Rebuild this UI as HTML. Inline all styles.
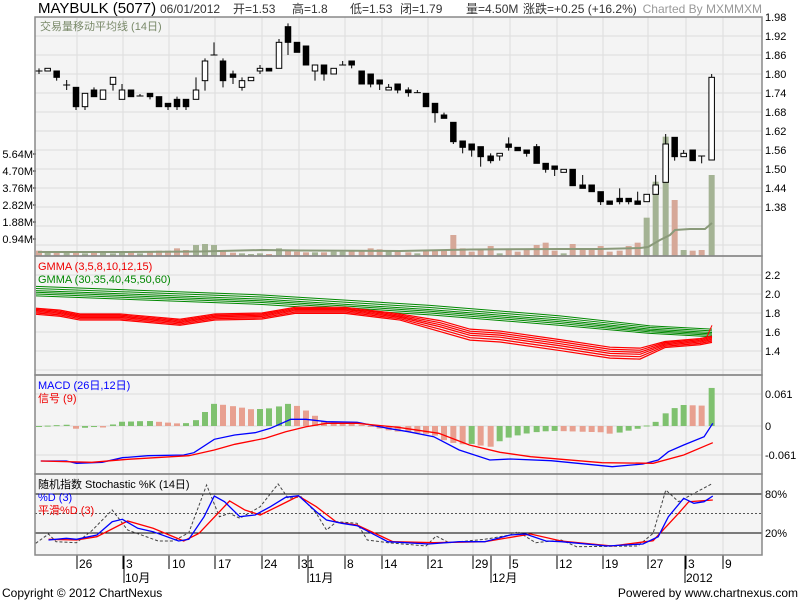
<!DOCTYPE html>
<html><head><meta charset="utf-8"><style>
body{margin:0;background:#fff;}
svg{display:block;font-family:"Liberation Sans","Noto Sans CJK SC",sans-serif;}
</style></head><body>
<svg id="s" width="800" height="600" xmlns="http://www.w3.org/2000/svg">
<rect width="800" height="600" fill="#fff"/>
<g id="bg"></g>
<g id="g"></g>
<g font-size="12" fill="#000">
<text x="38" y="13" font-size="15">MAYBULK (5077)</text>
<text x="160" y="13" fill="#333">06/01/2012</text>
<text x="233" y="13" fill="#333">开=1.53</text>
<text x="292" y="13" fill="#333">高=1.8</text>
<text x="350" y="13" fill="#333">低=1.53</text>
<text x="400" y="13" fill="#333">闭=1.79</text>
<text x="466" y="13" fill="#333">量=4.50M</text>
<text x="523" y="13" fill="#333">涨跌=+0.25 (+16.2%)</text>
<text x="762" y="13" fill="#999" text-anchor="end">Charted By MXMMXM</text>
<text x="40" y="30" font-size="11" fill="#7a8a6a">交易量移动平均线 (14日)</text>
<g font-size="11" text-anchor="end">
<text x="33" y="158">5.64M</text><text x="33" y="175">4.70M</text><text x="33" y="192">3.76M</text>
<text x="33" y="209">2.82M</text><text x="33" y="226">1.88M</text><text x="33" y="243">0.94M</text>
</g>
<g font-size="11">
<text x="765" y="21">1.98</text><text x="765" y="40">1.92</text><text x="765" y="59">1.86</text>
<text x="765" y="78">1.80</text><text x="765" y="97">1.74</text><text x="765" y="116">1.68</text>
<text x="765" y="135">1.62</text><text x="765" y="154">1.56</text><text x="765" y="173">1.50</text>
<text x="765" y="192">1.44</text><text x="765" y="211">1.38</text>
<text x="765" y="279">2.2</text><text x="765" y="298">2.0</text><text x="765" y="317">1.8</text>
<text x="765" y="336">1.6</text><text x="765" y="355">1.4</text>
<text x="765" y="398">0.061</text><text x="765" y="430">0</text><text x="765" y="459">-0.061</text>
<text x="765" y="498">80%</text><text x="765" y="537">20%</text>
</g>
<text x="38" y="270" font-size="11" fill="#e00">GMMA (3,5,8,10,12,15)</text>
<text x="38" y="283" font-size="11" fill="#080">GMMA (30,35,40,45,50,60)</text>
<text x="38" y="389" font-size="11" fill="#00f">MACD (26日,12日)</text>
<text x="38" y="402" font-size="11" fill="#e00">信号 (9)</text>
<text x="38" y="488" font-size="11">随机指数 Stochastic %K (14日)</text>
<text x="38" y="501" font-size="11" fill="#00f">%D (3)</text>
<text x="38" y="514" font-size="11" fill="#e00">平滑%D (3)</text>
<g font-size="12">
<text x="79" y="568">26</text><text x="126" y="568">3</text><text x="172" y="568">10</text>
<text x="218" y="568">17</text><text x="264" y="568">24</text><text x="301" y="568">31</text>
<text x="347" y="568">8</text><text x="384" y="568">14</text><text x="430" y="568">21</text>
<text x="475" y="568">29</text><text x="512" y="568">5</text><text x="559" y="568">12</text>
<text x="605" y="568">19</text><text x="650" y="568">27</text><text x="688" y="568">3</text>
<text x="725" y="568">9</text>
<text x="125" y="582">10月</text><text x="309" y="582">11月</text><text x="492" y="582">12月</text>
<text x="686" y="582">2012</text>
</g>
<text x="2" y="597" font-size="12">Copyright © 2012 ChartNexus</text>
<text x="798" y="597" font-size="12" text-anchor="end">Powered by www.chartnexus.com</text>
</g>
</svg>
<script>
var NS="http://www.w3.org/2000/svg";
function el(p,t,a){var e=document.createElementNS(NS,t);for(var k in a)e.setAttribute(k,a[k]);document.getElementById(p).appendChild(e);return e;}
var L=35,R=762;
// panels
[[17,256],[256,375],[375,474],[474,555]].forEach(function(p){el('bg','rect',{x:L,y:p[0],width:R-L,height:p[1]-p[0],fill:'#f4f4f4'});});
var gx=[77,123,169,215,262,299,345,382,428,473,510,557,603,648,686,723];
gx.forEach(function(x){el('bg','line',{x1:x,y1:17,x2:x,y2:555,stroke:'#ddd'});});
for(var y=17;y<256;y+=19)el('bg','line',{x1:L,y1:y,x2:R,y2:y,stroke:'#ddd'});
[275,294,313,332,351,370].forEach(function(y){el('bg','line',{x1:L,y1:y,x2:R,y2:y,stroke:'#ddd'});});
[394,426,455].forEach(function(y){el('bg','line',{x1:L,y1:y,x2:R,y2:y,stroke:'#ddd'});});
el('bg','line',{x1:L,y1:494,x2:R,y2:494,stroke:'#000'});
el('bg','line',{x1:L,y1:533,x2:R,y2:533,stroke:'#000'});
el('bg','line',{x1:L,y1:513.5,x2:R,y2:513.5,stroke:'#555','stroke-dasharray':'2,2'});
// date ticks
[77,123,169,215,262,299,345,382,428,473,510,557,603,648,686,723].forEach(function(x){el('bg','line',{x1:x,y1:555,x2:x,y2:569,stroke:'#000'});});
[124,308,491,685].forEach(function(x){el('bg','line',{x1:x,y1:555,x2:x,y2:583,stroke:'#000'});});
[154,171,188,205,222,239].forEach(function(y){el('bg','line',{x1:33,y1:y,x2:36,y2:y,stroke:'#000'});});
// candles in zoom coords: [zx, type(0 black,1 hollow,2 doji), bodyTop, bodyBot, wickTop, wickBot]
var C=[[117,2,213,213,205,222],[143,1,205,213,205,213],[170,0,213,232,213,242],[200,2,255,255,240,270],[228,0,262,320,262,330],[255,1,280,320,280,330],[282,0,270,290,262,290],[309,1,270,298,270,298],[339,1,232,253,232,272],[366,1,270,298,252,298],
[393,0,270,290,270,290],[420,2,288,288,282,288],[450,0,280,290,280,298],[477,0,290,320,290,320],[504,0,310,320,310,330],[531,0,298,320,290,330],[558,0,298,320,298,330],[588,1,270,298,232,298],[615,1,183,242,175,272],[642,2,165,165,127,165],
[669,0,183,242,175,262],[699,0,222,232,212,252],[726,1,242,262,232,272],[753,1,232,242,232,242],[780,1,205,213,195,222],[807,0,205,213,205,213],[837,1,127,205,117,205],[864,0,80,127,70,165],[891,0,127,157,127,157],[918,0,138,195,138,195],
[945,1,195,213,195,242],[972,0,195,222,195,242],[1001,1,205,222,205,222],[1028,2,195,195,183,195],[1055,0,183,195,183,205],[1085,0,213,252,213,252],[1112,0,222,252,222,262],[1139,0,240,252,240,270],[1166,1,262,270,252,270],[1193,0,252,270,252,280],
[25,0,270,278,262,290],[52,2,278,278,270,278],[78,0,280,320,280,320],[105,0,310,338,310,368],[132,0,345,355,338,355],[160,0,367,425,367,432],[188,0,423,442,423,460],[215,0,432,450,432,470],[242,0,440,470,440,500],[272,0,468,482,460,490],
[299,1,460,468,460,482],[326,0,432,442,412,452],[353,0,442,452,442,452],[380,0,450,460,450,470],[410,0,440,490,432,490],[437,0,490,508,490,518],[464,0,498,508,498,528],[491,1,508,517,508,517],[518,0,508,557,508,557],[548,0,555,565,525,565],
[575,0,555,575,555,575],[602,0,575,605,575,615],[629,0,603,613,603,613],[659,0,595,605,565,613],[686,0,595,605,595,613],[713,0,603,613,575,613],[740,1,583,605,583,605],[767,1,555,583,525,583],[797,1,432,547,402,547],[824,0,412,470,412,482],
[851,1,460,470,450,470],[878,0,450,482,450,482],[905,2,468,468,468,490],[935,1,232,480,222,480]];
// volume tops in zoom coords (bottom=770)
var V=[752,757,757,757,757,760,757,757,760,757,757,760,755,752,752,745,750,735,732,735,750,758,760,762,760,762,745,750,755,757,757,757,755,755,752,750,745,748,752,752,
757,760,752,752,752,705,745,755,748,738,760,748,755,748,735,728,752,760,732,748,748,738,755,752,738,728,653,545,410,600,750,752,750,525];
var xs=[];
C.forEach(function(c,i){
 var x=(i>=40?c[0]+1200:c[0])/3; xs.push(x);
 var up=c[1]==1;
 var vt=V[i]/3;
 el('bg','rect',{x:x-3,y:vt,width:6,height:256-vt,fill:(up||(i>0&&c[1]==2&&i%2))?'#a4b394':'#d6a898'});
});
// vol MA
el('g','polyline',{points:'38,252 120,252 200,251.5 262,250 300,250.5 400,251 470,249.5 560,249 600,249 640,248 648,247 660,240 670,235 675,230 690,229 705,229 712,223',fill:'none',stroke:'#8a9a7a','stroke-width':2});
C.forEach(function(c,i){
 var x=xs[i];
 el('g','line',{x1:x,y1:c[4]/3,x2:x,y2:c[5]/3,stroke:'#000'});
 if(c[1]==2){el('g','line',{x1:x-3.5,y1:c[2]/3,x2:x+3.5,y2:c[2]/3,stroke:'#000'});}
 else el('g','rect',{x:x-2.75,y:c[2]/3,width:5.5,height:Math.max(1,(c[3]-c[2])/3),fill:c[1]?'#fff':'#000',stroke:'#000','stroke-width':1});
});
// GMMA
function gy(v){return 275+(2.2-v)*95;}
var G=[[36,2.08],[262,1.99],[430,1.88],[560,1.77],[650,1.665],[712,1.63]];
[0,-0.022,-0.044,-0.062,-0.08,-0.1].forEach(function(o,k){
 el('g','polyline',{points:G.map(function(p){return p[0]+','+gy(p[1]+o*(p[0]>600?0.8:1));}).join(' '),fill:'none',stroke:'#080','stroke-width':1});});
var Rd=[[36,1.85],[60,1.83],[80,1.79],[120,1.79],[180,1.735],[215,1.79],[262,1.80],[295,1.86],[345,1.86],[400,1.79],[440,1.72],[470,1.63],[500,1.61],[560,1.52],[610,1.44],[640,1.43],[665,1.50],[700,1.53],[712,1.555]];
[0,-0.012,-0.024,-0.036,-0.05,-0.064].forEach(function(o,k){
 el('g','polyline',{points:Rd.map(function(p){var s=(p[0]>400&&p[0]<660)?1.8:1;return p[0]+','+gy(p[1]+o*s);}).join(' '),fill:'none',stroke:'#f00','stroke-width':1.2});});
el('g','polyline',{points:'706,'+gy(1.53)+' 712,'+gy(1.67),fill:'none',stroke:'#f00'});
// MACD
function cv(a){return a.map(function(p){return [p[0]/1.96,p[1]/3+260];});}
var B=cv([[80,603],[130,603],[150,610],[200,607],[240,593],[290,587],[360,585],[380,578],[420,538],[460,525],[500,518],[530,505],[570,478],[600,478],[640,485],[700,487],[760,505],[800,515],[850,530],[900,570],[960,600],[1000,597],[1080,602],[1200,620],[1260,612],[1290,600],[1310,575],[1340,555],[1380,530],[1397,490]]);
var S=cv([[80,603],[180,607],[250,598],[370,587],[420,570],[460,553],[520,535],[560,515],[600,500],[640,490],[700,490],[780,502],[860,520],[920,555],[980,577],[1040,590],[1180,608],[1280,610],[1340,585],[1397,548]]);
function interp(a,x){if(x<=a[0][0])return a[0][1];for(var i=1;i<a.length;i++){if(x<=a[i][0]){var t=(x-a[i-1][0])/(a[i][0]-a[i-1][0]);return a[i-1][1]+t*(a[i][1]-a[i-1][1]);}}return a[a.length-1][1];}
var prev=0;
xs.forEach(function(x,i){
 var h=(interp(S,x)-interp(B,x))*2.1;
 var col=h>=prev?'#7fc16f':'#e8a090'; prev=h;
 el('bg','rect',{x:x-3,y:h>0?426-h:426,width:6,height:Math.max(1,Math.abs(h)),fill:col});
});
function pl(a,c,extra){var o={points:a.map(function(p){return p[0].toFixed(1)+','+p[1].toFixed(1);}).join(' '),fill:'none',stroke:c,'stroke-width':1.3};for(var k in extra)o[k]=extra[k];el('g','polyline',o);}
pl(B,'#00f');pl(S,'#f00');
// Stochastic
pl(cv([[70,850],[95,822],[110,845],[150,848],[180,812],[220,750],[250,810],[310,843],[340,843],[370,818],[405,675],[430,770],[450,760],[470,775],[510,740],[545,672],[565,715],[590,710],[620,760],[640,810],[660,785],[700,790],[720,840],[760,848],[835,858],[855,828],[880,848],[950,838],[1000,825],[1015,815],[1050,848],[1100,840],[1130,860],[1250,858],[1280,820],[1305,690],[1330,725],[1397,670]]),'#444',{'stroke-dasharray':'3,2','stroke-width':1});
pl(cv([[95,838],[150,840],[190,830],[250,783],[300,805],[360,843],[390,820],[450,723],[480,750],[510,765],[550,735],[585,708],[620,740],[660,787],[700,795],[770,845],[850,848],[950,845],[1040,822],[1100,843],[1200,858],[1280,842],[1330,760],[1350,725],[1397,720]]),'#f00');
pl(cv([[95,840],[130,835],[150,838],[190,825],[220,785],[240,778],[270,805],[300,815],[350,843],[370,838],[400,770],[420,708],[440,725],[470,770],[500,765],[530,740],[560,712],[585,707],[620,755],[640,780],[670,790],[700,797],[760,845],[840,852],[900,845],[950,845],[1000,825],[1030,822],[1070,843],[1100,845],[1190,858],[1260,852],[1290,830],[1310,770],[1340,715],[1360,730],[1380,725],[1397,708]]),'#00f');
// borders
[[17,256],[256,375],[375,474],[474,555]].forEach(function(p){el('g','rect',{x:L,y:p[0],width:R-L,height:p[1]-p[0],fill:'none',stroke:'#888','stroke-width':1.5});});
</script>
</body></html>
